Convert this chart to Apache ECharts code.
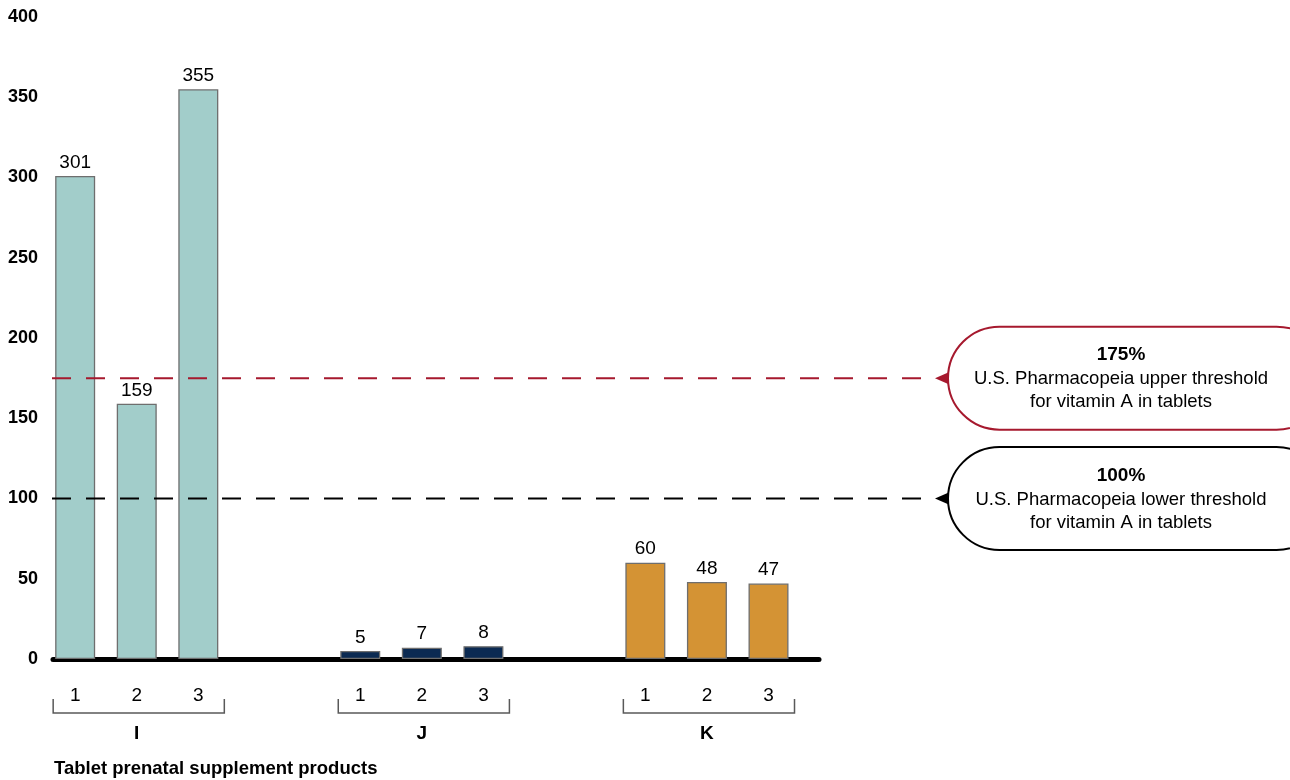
<!DOCTYPE html>
<html>
<head>
<meta charset="utf-8">
<script src="https://cdn.jsdelivr.net/npm/echarts@6/dist/echarts.min.js"></script>
<style>html,body{margin:0;padding:0;background:#fff;}#chart{width:1290px;height:780px;}</style>
</head>
<body>
<div id="chart"></div>
<script>
// ---- data ----
var groups = ['I', 'J', 'K'];
var productLabels = ['1', '2', '3'];
var groupI = [301, 159, 355];
var groupJ = [5, 7, 8];
var groupK = [60, 48, 47];
var groupColors = ['#a2cdca', '#0b2a52', '#d49334'];
var thresholdValues = [175, 100];
var thresholdPercents = ['175%', '100%'];
var thresholdTexts = [
  ['U.S. Pharmacopeia upper threshold', 'for vitamin A in tablets'],
  ['U.S. Pharmacopeia lower threshold', 'for vitamin A in tablets']
];
var thresholdColors = ['#a6192e', '#000000'];
var yTicks = [0, 50, 100, 150, 200, 250, 300, 350, 400];
var xTitle = 'Tablet prenatal supplement products';

// ---- layout (x axis in bar-slot units) ----
var GROUP_STEP = 4.63;
var X_MIN = -0.36, X_MAX = 12.08;
var FONT = 'Liberation Sans, Arial, sans-serif';

var groupValues = [groupI, groupJ, groupK];
function xOf(g, i) { return g * GROUP_STEP + i; }

var series = groupValues.map(function (vals, g) {
  return {
    type: 'bar',
    name: groups[g],
    barWidth: 40,
    barGap: '-100%',
    data: vals.map(function (v, i) { return [xOf(g, i), v]; }),
    itemStyle: { color: groupColors[g], borderColor: '#6e6e6e', borderWidth: 1.3 },
    label: { show: true, position: 'top', distance: 4, color: '#000', fontSize: 19, fontFamily: FONT,
      formatter: function (p) { return p.value[1]; } },
    z: 2
  };
});

// bracket + product numbers + group letters
series.push({
  type: 'custom',
  clip: false,
  silent: true,
  data: groups.map(function (g, gi) { return [xOf(gi, 0), 0, gi]; }),
  renderItem: function (params, api) {
    var gi = api.value(2);
    var p0 = api.coord([xOf(gi, 0), 0]);
    var p2 = api.coord([xOf(gi, 2), 0]);
    var base = p0[1];
    var left = p0[0] - 22, right = p2[0] + 26;
    var children = [{
      type: 'polyline',
      shape: { points: [[left, base + 40], [left, base + 54], [right, base + 54], [right, base + 40]] },
      style: { stroke: '#595959', lineWidth: 1.5, fill: null }
    }];
    for (var i = 0; i < productLabels.length; i++) {
      var pi = api.coord([xOf(gi, i), 0]);
      children.push({
        type: 'text',
        style: { text: productLabels[i], x: pi[0], y: base + 37, align: 'center', verticalAlign: 'middle',
          fontSize: 19, fontFamily: FONT, fill: '#000' }
      });
    }
    var pm = api.coord([xOf(gi, 1), 0]);
    children.push({
      type: 'text',
      style: { text: groups[gi], x: pm[0], y: base + 75, align: 'center', verticalAlign: 'middle',
        fontSize: 19, fontWeight: 'bold', fontFamily: FONT, fill: '#000' }
    });
    return { type: 'group', children: children };
  }
});

// threshold lines + callouts
series.push({
  type: 'custom',
  clip: false,
  silent: true,
  z: 5,
  data: thresholdValues.map(function (v, k) { return [X_MIN, v, k]; }),
  renderItem: function (params, api) {
    var k = api.value(2);
    var v = api.value(1);
    var c = thresholdColors[k];
    var p = api.coord([X_MIN, v]);
    var y = p[1];
    var lineEnd = p[0] + 882;
    var boxLeft = lineEnd + 13;
    var boxW = 380, boxH = 103;
    var cx = boxLeft + 173;
    return {
      type: 'group',
      children: [
        { type: 'line', shape: { x1: p[0] - 1, y1: y, x2: lineEnd, y2: y },
          style: { stroke: c, lineWidth: 2, lineDash: [19, 15] } },
        { type: 'polygon', shape: { points: [[lineEnd, y], [boxLeft + 3, y - 7], [boxLeft + 3, y + 7]] },
          style: { fill: c } },
        { type: 'rect', shape: { x: boxLeft, y: y - boxH / 2, width: boxW, height: boxH, r: boxH / 2 },
          style: { fill: '#fff', stroke: c, lineWidth: 2 } },
        { type: 'text', style: { text: thresholdPercents[k], x: cx, y: y - 23, align: 'center', verticalAlign: 'middle',
          fontSize: 19, fontWeight: 'bold', fontFamily: FONT, fill: '#000' } },
        { type: 'text', style: { text: thresholdTexts[k][0], x: cx, y: y + 1, align: 'center', verticalAlign: 'middle',
          fontSize: 18.5, fontFamily: FONT, fill: '#000' } },
        { type: 'text', style: { text: thresholdTexts[k][1], x: cx, y: y + 24, align: 'center', verticalAlign: 'middle',
          fontSize: 18.5, fontFamily: FONT, fill: '#000' } }
      ]
    };
  }
});

var chart = echarts.init(document.getElementById('chart'), null, { renderer: 'canvas' });
chart.setOption({
  animation: false,
  backgroundColor: '#fff',
  title: {
    text: xTitle, left: 49, top: 754,
    textStyle: { fontSize: 18.5, fontWeight: 'bold', fontFamily: FONT, color: '#000' }
  },
  grid: { left: 53, right: 1290 - 819, top: 17, bottom: 780 - 659, containLabel: false },
  xAxis: {
    type: 'value', min: X_MIN, max: X_MAX,
    axisLine: { show: true, onZero: true, lineStyle: { color: '#000', width: 5 } },
    axisTick: { show: false }, axisLabel: { show: false }, splitLine: { show: false }
  },
  yAxis: {
    type: 'value', min: yTicks[0], max: yTicks[yTicks.length - 1], interval: yTicks[1] - yTicks[0],
    axisLine: { show: false }, axisTick: { show: false }, splitLine: { show: false },
    axisLabel: { margin: 15, fontSize: 18, fontWeight: 'bold', fontFamily: FONT, color: '#000' }
  },
  series: series
});
</script>
</body>
</html>
